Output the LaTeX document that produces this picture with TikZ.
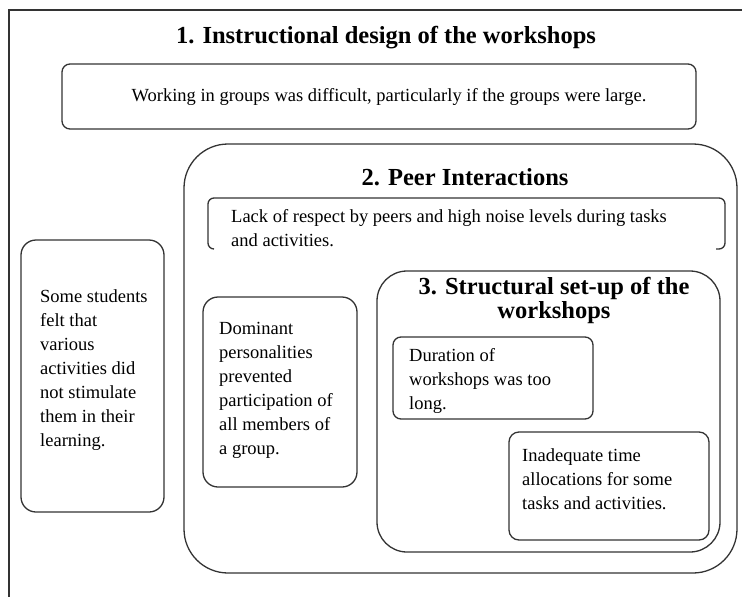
\documentclass[tikz,border=0pt]{standalone}
\usepackage{fontspec}
\setmainfont{Liberation Serif}
\usepackage{tikz}

\tikzset{
 box/.style={draw=black!80, line width=1.3pt},
 boxtext/.style={anchor=north west, inner sep=0pt, align=left, font=\fontsize{18.5}{24}\selectfont},
 heading/.style={inner sep=0pt, align=center, font=\fontsize{24.5}{24}\selectfont\bfseries}
}

\begin{document}
\begin{tikzpicture}[x=1pt,y=-1pt]
 \useasboundingbox (0,0) rectangle (742,597);

 % frame
 \draw[box] (742,10) -- (9,10) -- (9,597);

 % 1. instructional design
 \node[heading] (title1) at (386,38) {1. Instructional design of the workshops};
 \draw[box, rounded corners=8] (62,64) rectangle (696,129);
 \node[boxtext, anchor=center] (groups) at (389,97) {Working in groups was difficult, particularly if the groups were large.};

 \draw[box, rounded corners=15] (21,240) rectangle (164,512);
 \node[boxtext] (stimulate) at (40,289) {Some students\\ felt that\\ various\\ activities did\\ not stimulate\\ them in their\\ learning.};

 % 2. peer interactions
 \draw[box, rounded corners=44] (184,144) rectangle (737,573);
 \node[heading] (title2) at (465,177) {2. Peer Interactions};
 \draw[box, rounded corners=6] (214,249) -| (208,198) -| (725,249) -- (716,249);
 \node[boxtext] (respect) at (231,209) {Lack of respect by peers and high noise levels during tasks\\ and activities.};

 \draw[box, rounded corners=15] (203,297) rectangle (357,487);
 \node[boxtext] (dominant) at (219,322) {Dominant\\ personalities\\ prevented\\ participation of\\ all members of\\ a group.};

 % 3. structural set-up
 \draw[box, rounded corners=30] (377,271) rectangle (720,552);
 \node[heading] (title3) at (554,300) {3. Structural set-up of the\\ workshops};
 \draw[box, rounded corners=8] (393,337) rectangle (593,419);
 \node[boxtext] (duration) at (409,348) {Duration of\\ workshops was too\\ long.};
 \draw[box, rounded corners=10] (509,432) rectangle (709,540);
 \node[boxtext] (allocation) at (522,448) {Inadequate time\\ allocations for some\\ tasks and activities.};
\end{tikzpicture}
\end{document}
